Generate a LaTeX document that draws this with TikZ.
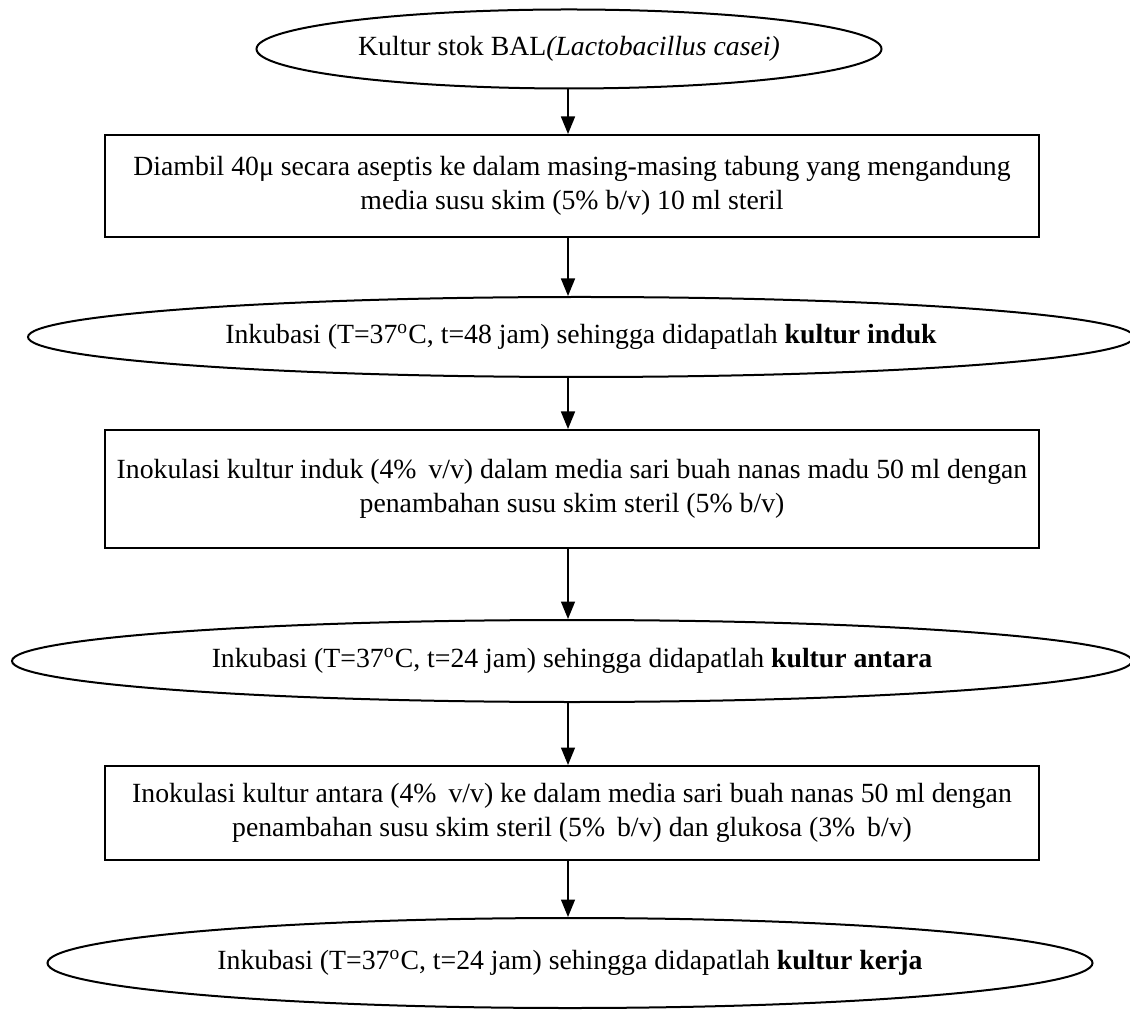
\documentclass[tikz,border=0pt]{standalone}
\usepackage{fontspec}
\setmainfont{Liberation Serif}
\usetikzlibrary{arrows.meta,shapes.geometric}
\begin{document}
\begin{tikzpicture}[x=0.4pt,y=-0.4pt,
  txt/.style={font=\fontsize{11.1}{13.6}\selectfont},
  oval/.style={draw, ellipse, line width=0.8pt, inner sep=0pt, txt},
  stepbox/.style={draw, rectangle, line width=0.8pt, minimum width=373.6pt, align=center, inner sep=0pt, txt},
  arr/.style={-{Triangle[length=7pt,width=5.6pt]}, line width=0.6pt}]
\useasboundingbox (0,0) rectangle (1130,1030);
\clip (0,0) rectangle (1130,1030);
\coordinate (xl) at (568,0);
\node[oval, minimum width=250pt, minimum height=31.6pt] (e1) at (569,49)
  {\makebox[0pt]{Kultur stok BAL\textit{(Lactobacillus casei)}}};
\node[stepbox, minimum height=40.8pt] (b1) at (572,186)
  {Diambil 40μ secara aseptis ke dalam masing-masing tabung yang mengandung\\ media susu skim (5\% b/v) 10 ml steril};
\node[oval, minimum width=442.4pt, minimum height=32pt] (e2) at (581,337)
  {\makebox[0pt]{Inkubasi (T=37\textsuperscript{o}C, t=48 jam) sehingga didapatlah \textbf{kultur induk}}};
\node[stepbox, minimum height=47.2pt] (b2) at (572,489)
  {Inokulasi kultur induk (4\%\kern2pt\ v/v) dalam media sari buah nanas madu 50 ml dengan\\ penambahan susu skim steril (5\% b/v)};
\node[oval, minimum width=448pt, minimum height=32.8pt] (e3) at (572,661)
  {\makebox[0pt]{Inkubasi (T=37\textsuperscript{o}C, t=24 jam) sehingga didapatlah \textbf{kultur antara}}};
\node[stepbox, minimum height=37.6pt] (b3) at (572,813)
  {Inokulasi kultur antara (4\%\kern2pt\ v/v) ke dalam media sari buah nanas 50 ml dengan\\ penambahan susu skim steril (5\%\kern2pt\ b/v) dan glukosa (3\%\kern2pt\ b/v)};
\node[oval, minimum width=418pt, minimum height=36pt] (e4) at (570,963)
  {\makebox[0pt]{Inkubasi (T=37\textsuperscript{o}C, t=24 jam) sehingga didapatlah \textbf{kultur kerja}}};
\draw[arr] (e1.south -| xl) -- (b1.north -| xl);
\draw[arr] (b1.south -| xl) -- (e2.north -| xl);
\draw[arr] (e2.south -| xl) -- (b2.north -| xl);
\draw[arr] (b2.south -| xl) -- (e3.north -| xl);
\draw[arr] (e3.south -| xl) -- (b3.north -| xl);
\draw[arr] (b3.south -| xl) -- (e4.north -| xl);
\end{tikzpicture}
\end{document}
